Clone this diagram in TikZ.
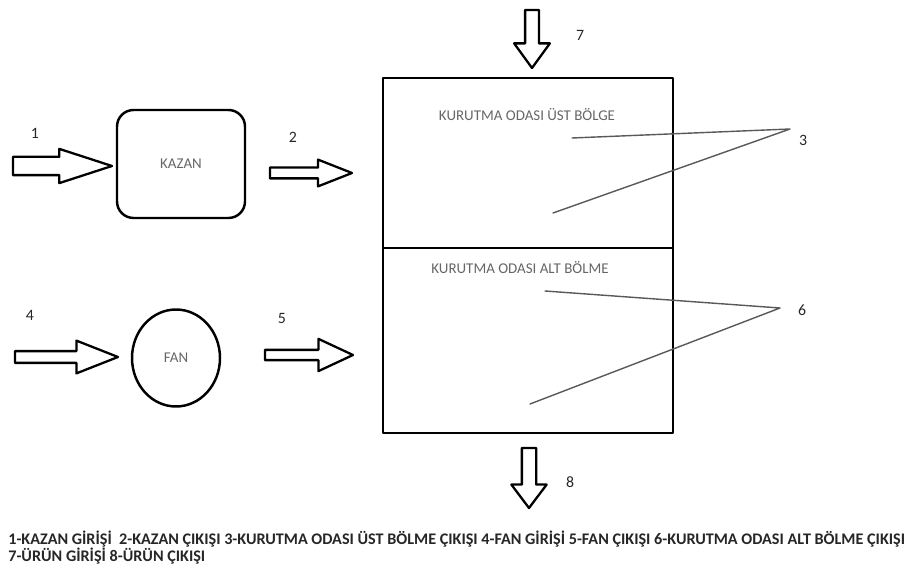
\documentclass[tikz,border=0pt]{standalone}
\usepackage{fontspec}
\setmainfont{Carlito}
\usepackage{tikz}
\usetikzlibrary{shapes.arrows}
\usetikzlibrary{shapes.geometric}
\usetikzlibrary{positioning}

\tikzset{
  blockarrow/.style={draw, single arrow, fill=white, line width=1.3pt,
    inner sep=0pt, outer sep=0pt, text width=0pt, text height=0pt, text depth=0pt,
    single arrow head indent=0pt, anchor=tip},
  room/.style={draw, rectangle, line width=1.6pt, minimum width=5.8cm},
  roomlbl/.style={text=black!60, font=\fontsize{8.5}{10}\selectfont},
  num/.style={font=\fontsize{9}{11}\selectfont, text=black!85},
  leader/.style={line width=0.8pt, draw=black!65},
  legend/.style={font=\fontsize{9.2}{10}\selectfont\bfseries, text=black!85, inner sep=0pt}
}

\begin{document}
\begin{tikzpicture}[line cap=round, line join=round, x=0.02cm, y=-0.02cm]
\useasboundingbox (0,0) rectangle (912,577);
% kazan and fan
\node[draw, rounded corners=0.33cm, line width=1.4pt, minimum width=2.56cm, minimum height=2.16cm,
  text=black!60, font=\fontsize{8.5}{10}\selectfont] (kazan) at (181,164) {KAZAN};
\node[draw, ellipse, line width=1.4pt, minimum width=1.76cm, minimum height=1.94cm,
  text=black!60, font=\fontsize{8.5}{10}\selectfont] (fan) at (176,358) {FAN};
% kurutma odasi
\node[room, minimum height=3.4cm] (ust) at (528,163) {};
\node[room, minimum height=3.7cm] (alt) at (528,340.5) {};
\node[roomlbl] (ustlbl) at (527,115) {KURUTMA ODASI ÜST BÖLGE};
\node[roomlbl] (altlbl) at (520,268) {KURUTMA ODASI ALT BÖLME};
% block arrows
\node[blockarrow, inner ysep=0.16cm, single arrow head extend=0.16cm, minimum height=1.98cm,
  single arrow tip angle=36] (in1) at (112,166) {};
\node[blockarrow, inner ysep=0.085cm, single arrow head extend=0.16cm, minimum height=1.64cm,
  single arrow tip angle=43] (out2) at (352,173) {};
\node[blockarrow, inner ysep=0.095cm, single arrow head extend=0.21cm, minimum height=2.06cm,
  single arrow tip angle=43] (in4) at (118,357) {};
\node[blockarrow, inner ysep=0.08cm, single arrow head extend=0.22cm, minimum height=1.76cm,
  single arrow tip angle=50] (out5) at (353,355) {};
\node[blockarrow, rotate=-90, inner ysep=0.115cm, single arrow head extend=0.22cm, minimum height=1.16cm,
  single arrow tip angle=72] (in7) at (532,68) {};
\node[blockarrow, rotate=-90, inner ysep=0.12cm, single arrow head extend=0.21cm, minimum height=1.2cm,
  single arrow tip angle=74] (out8) at (529,508) {};
% numbers
\node[num] (n1) at (35,133) {1};
\node[num] (n2) at (293,137) {2};
\node[num] (n3) at (803,140) {3};
\node[num] (n4) at (30,315) {4};
\node[num] (n5) at (282,318) {5};
\node[num] (n6) at (802,310) {6};
\node[num] (n7) at (580,35) {7};
\node[num] (n8) at (570,482) {8};
% leader lines
\coordinate (p3) at (790,129);
\coordinate (p3a) at (572,138);
\coordinate (p3b) at (553,213);
\coordinate (p6) at (780,308);
\coordinate (p6a) at (545,291);
\coordinate (p6b) at (530,404);
\draw[leader] (p3a) -- (p3) -- (p3b);
\draw[leader] (p6a) -- (p6) -- (p6b);
% legend
\node[legend, anchor=base west] (leg1) at (8,544) {1-KAZAN GİRİŞİ\ \ 2-KAZAN ÇIKIŞI 3-KURUTMA ODASI ÜST BÖLME ÇIKIŞI 4-FAN GİRİŞİ 5-FAN ÇIKIŞI 6-KURUTMA ODASI ALT BÖLME ÇIKIŞI};
\node[legend, anchor=base west] (leg2) at (8,561) {7-ÜRÜN GİRİŞİ 8-ÜRÜN ÇIKIŞI};
\end{tikzpicture}
\end{document}
